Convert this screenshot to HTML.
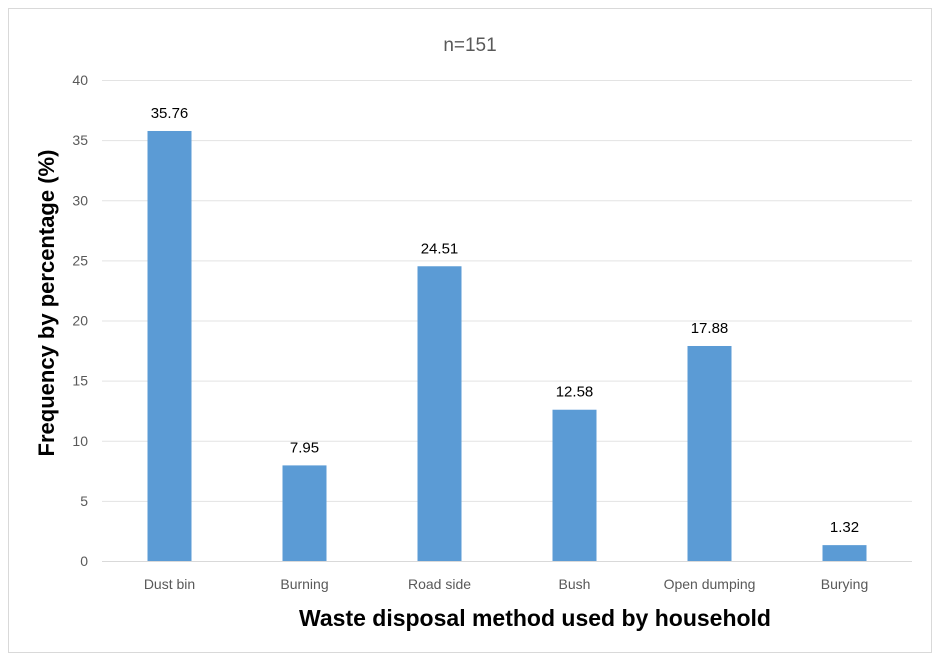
<!DOCTYPE html>
<html><head><meta charset="utf-8"><style>
body{margin:0;background:#fff;}
svg{display:block;font-family:"Liberation Sans",sans-serif;}
</style></head><body>
<svg id="chart" width="940" height="661">
<rect x="8.5" y="8.5" width="923" height="644" fill="#fff" stroke="#d9d9d9"/>
<text x="470" y="51" text-anchor="middle" font-size="19" fill="#595959">n=151</text>
<g id="grid"></g><g id="bars"></g><g id="labels"></g>
<text transform="translate(54,303) rotate(-90)" text-anchor="middle" font-size="22" font-weight="bold" fill="#000">Frequency by percentage (%)</text>
<text x="535" y="626" text-anchor="middle" font-size="23" font-weight="bold" fill="#000">Waste disposal method used by household</text>
</svg>
<script>
const categories=["Dust bin","Burning","Road side","Bush","Open dumping","Burying"];
const values=[35.76,7.95,24.51,12.58,17.88,1.32];
const valueLabels=["35.76","7.95","24.51","12.58","17.88","1.32"];
const yTicks=[0,5,10,15,20,25,30,35,40];
const NS="http://www.w3.org/2000/svg";
const x0=102,x1=912,y0=561,yTop=80,yMax=40;
const y=v=>y0-(v/yMax)*(y0-yTop);
const band=(x1-x0)/categories.length;
const xc=i=>x0+band*(i+0.5);
function mk(t,a,p){const e=document.createElementNS(NS,t);for(const k in a)e.setAttribute(k,a[k]);document.getElementById(p).appendChild(e);return e;}
yTicks.forEach(t=>{
 const l=mk("line",{x1:x0,x2:x1,y1:y(t)+0.5,y2:y(t)+0.5,stroke:t===0?"#d9d9d9":"#e3e3e3","stroke-width":1},"grid");
 
 
 const tx=mk("text",{x:88,y:y(t)+5,"text-anchor":"end","font-size":14,fill:"#595959"},"grid");
 tx.textContent=t;
 
 
});
categories.forEach((c,i)=>{
 const w=44;
 const r=mk("rect",{x:xc(i)-w/2,y:y(values[i]),width:w,height:y0-y(values[i]),fill:"#5b9bd5"},"bars");
 
 
 const v=mk("text",{x:xc(i),y:y(values[i])-13,"text-anchor":"middle","font-size":15,fill:"#000"},"labels");
 v.textContent=valueLabels[i];
 
 
 const cl=mk("text",{x:xc(i),y:589,"text-anchor":"middle","font-size":14,fill:"#595959"},"labels");
 cl.textContent=c;
 
 
});
</script>
</body></html>
